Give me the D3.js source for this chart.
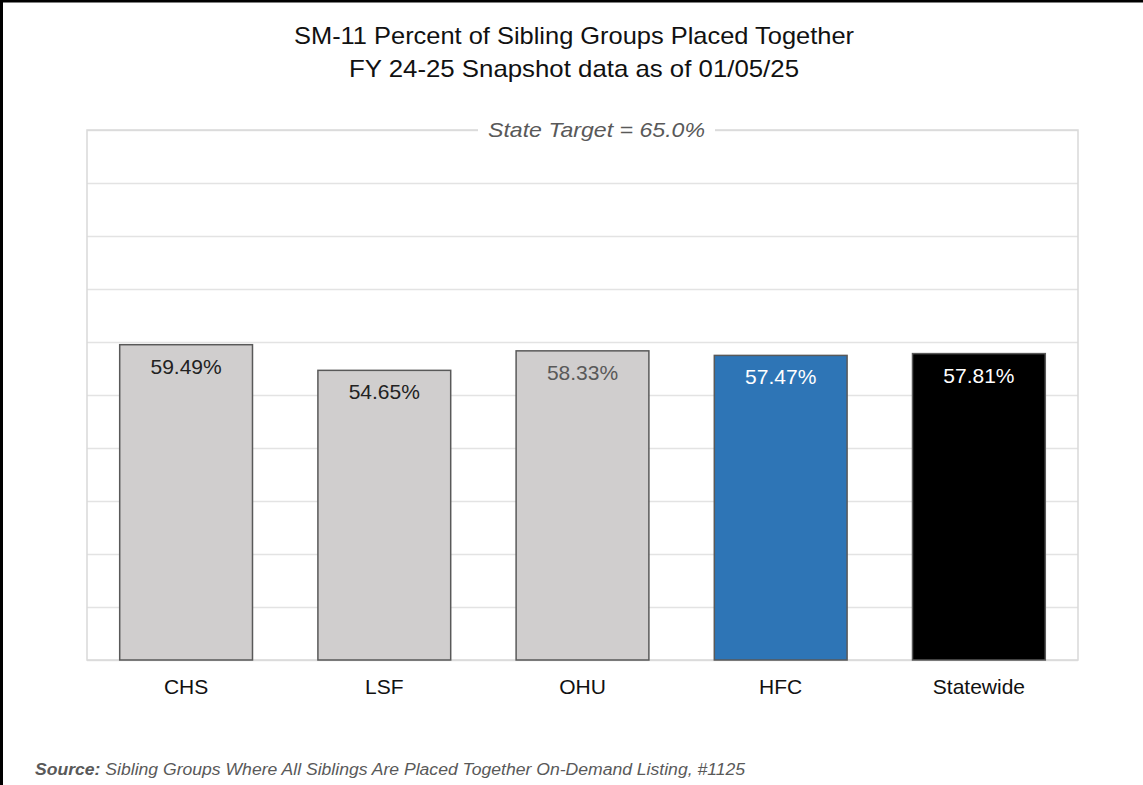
<!DOCTYPE html>
<html>
<head>
<meta charset="utf-8">
<script src="https://cdn.jsdelivr.net/npm/d3@7"></script>
<style>
  body { margin: 0; background: #fff; }
  #chart { width: 1143px; height: 785px; }
</style>
</head>
<body>
<div id="chart"></div>
<script>
let categories = ['CHS', 'LSF', 'OHU', 'HFC', 'Statewide']
let values = [59.49, 54.65, 58.33, 57.47, 57.81]
let barFills = ['#d0cece', '#d0cece', '#d0cece', '#2e75b6', '#000000']
let labelFills = ['#222222', '#222222', '#595959', '#ffffff', '#ffffff']
let titleLines = ['SM-11 Percent of Sibling Groups Placed Together', 'FY 24-25 Snapshot data as of 01/05/25']
let targetLabel = 'State Target = 65.0%'
let gridTicks = [0, 10, 20, 30, 40, 50, 60, 70, 80, 90, 100]

let width = 1143
let height = 785
let margin = { top: 130, right: 65, bottom: 125, left: 87 }
let plotWidth = width - margin.left - margin.right
let plotHeight = height - margin.top - margin.bottom

let svg = d3.select('#chart')
  .append('svg')
    .attr('width', width)
    .attr('height', height)

// Frame lines (top and left)
svg.append('line')
  .attr('x1', 0).attr('x2', width).attr('y1', 1).attr('y2', 1)
  .attr('stroke', '#000').attr('stroke-width', 3)
svg.append('line')
  .attr('x1', 1.5).attr('x2', 1.5).attr('y1', 0).attr('y2', height)
  .attr('stroke', '#000').attr('stroke-width', 3)

let font = '"Liberation Sans", Arial, sans-serif'

// Title
svg.append('text')
  .attr('x', 574).attr('y', 44)
  .attr('text-anchor', 'middle')
  .style('font-family', font)
  .style('font-size', '24px')
  .attr('fill', '#111')
  .attr('textLength', 560).attr('lengthAdjust', 'spacingAndGlyphs')
  .text(titleLines[0])
svg.append('text')
  .attr('x', 574).attr('y', 77)
  .attr('text-anchor', 'middle')
  .style('font-family', font)
  .style('font-size', '24px')
  .attr('fill', '#111')
  .attr('textLength', 450).attr('lengthAdjust', 'spacingAndGlyphs')
  .text(titleLines[1])

let plot = svg.append('g')
  .attr('transform', `translate(${margin.left}, ${margin.top})`)

let xScale = d3.scaleBand().domain(categories).range([0, plotWidth]).paddingInner(0.33).paddingOuter(0.165)
let yScale = d3.scaleLinear().domain([0, 100]).range([plotHeight, 0])

// Gridlines
plot.append('g')
  .call(d3.axisLeft(yScale).tickValues(gridTicks).tickSize(-plotWidth).tickFormat(''))
  .call(g => g.select('.domain').remove())
  .call(g => g.selectAll('.tick line').attr('stroke', '#e3e3e3').attr('stroke-width', 1.5))

// Plot border
plot.append('rect')
  .attr('x', 0).attr('y', 0)
  .attr('width', plotWidth).attr('height', plotHeight)
  .attr('fill', 'none')
  .attr('stroke', '#d9d9d9')
  .attr('stroke-width', 1.5)

// Target label on top gridline
let targetText = plot.append('text')
  .attr('x', plotWidth / 2 + 14)
  .attr('y', 7)
  .attr('text-anchor', 'middle')
  .style('font-family', font)
  .style('font-size', '21px')
  .style('font-style', 'italic')
  .attr('fill', '#595959')
  .attr('textLength', 217).attr('lengthAdjust', 'spacingAndGlyphs')
  .text(targetLabel)
let tb = targetText.node().getBBox()
plot.insert('rect', () => targetText.node())
  .attr('x', tb.x - 10).attr('y', -4)
  .attr('width', tb.width + 20).attr('height', 8)
  .attr('fill', '#fff')

// Bars
plot.selectAll('.bar')
  .data(categories)
  .enter()
  .append('rect')
    .attr('class', 'bar')
    .attr('x', d => xScale(d))
    .attr('y', (d, i) => yScale(values[i]))
    .attr('width', xScale.bandwidth())
    .attr('height', (d, i) => yScale(0) - yScale(values[i]))
    .attr('fill', (d, i) => barFills[i])
    .attr('stroke', '#595959')
    .attr('stroke-width', 1.5)

// Value labels inside bars
plot.selectAll('.value')
  .data(categories)
  .enter()
  .append('text')
    .attr('class', 'value')
    .attr('x', d => xScale(d) + xScale.bandwidth() / 2)
    .attr('y', (d, i) => yScale(values[i]) + 29)
    .attr('text-anchor', 'middle')
    .style('font-family', font)
    .style('font-size', '21px')
    .attr('fill', (d, i) => labelFills[i])
    .text((d, i) => values[i].toFixed(2) + '%')

// Category labels
plot.append('g')
  .attr('transform', `translate(0, ${plotHeight})`)
  .call(d3.axisBottom(xScale).tickSize(0).tickPadding(19))
  .call(g => g.select('.domain').remove())
  .call(g => g.selectAll('text')
    .style('font-family', font)
    .style('font-size', '21px')
    .attr('fill', '#111'))

// Source note
let source = svg.append('text')
  .attr('x', 35).attr('y', 775)
  .style('font-family', font)
  .style('font-size', '16px')
  .style('font-style', 'italic')
  .attr('fill', '#595959')
  .attr('textLength', 710).attr('lengthAdjust', 'spacingAndGlyphs')
source.append('tspan').style('font-weight', 'bold').text('Source:')
source.append('tspan').text(' Sibling Groups Where All Siblings Are Placed Together On-Demand Listing, #1125')
</script>
</body>
</html>
